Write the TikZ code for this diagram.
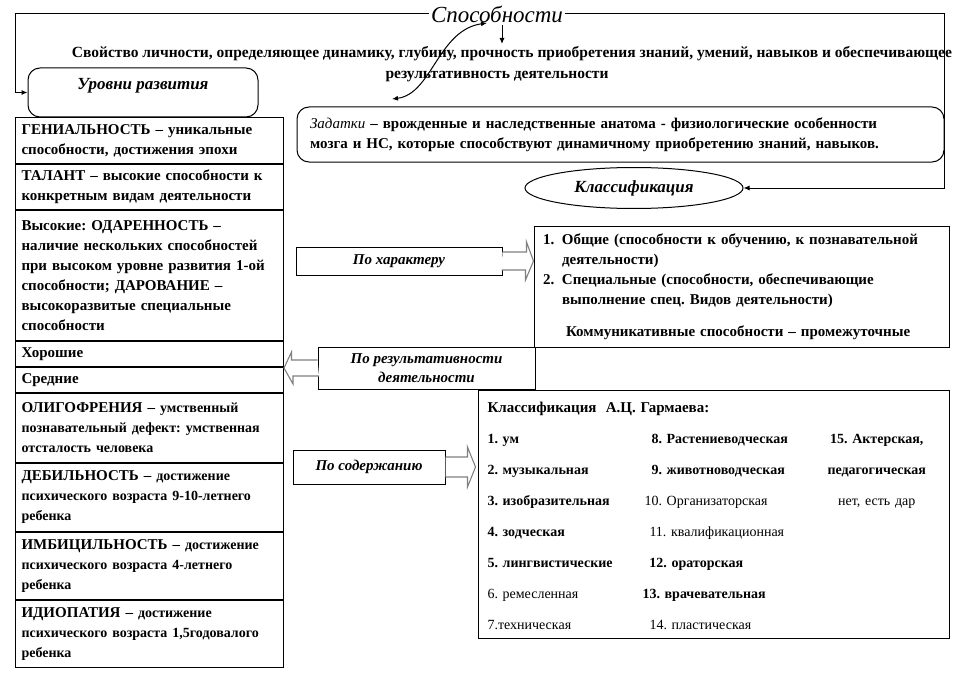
\documentclass[tikz,border=0pt]{standalone}
\usepackage{fontspec}
\setmainfont{Liberation Serif}
\usetikzlibrary{positioning,shapes.geometric,arrows.meta}
\frenchspacing

\tikzset{
  levelrow/.style={draw, rectangle, minimum width=268pt, text width=256pt,
    inner xsep=6pt, inner ysep=0pt, align=left, anchor=north west,
    font=\fontsize{15}{20}\selectfont\bfseries},
  roundbox/.style={draw, rounded corners=12pt, inner sep=0pt},
  kindbox/.style={draw, rectangle, inner sep=0pt, align=center,
    font=\fontsize{15}{19}\selectfont\bfseries\itshape},
  openarrow/.style={draw=black!50, fill=white, line width=1.1pt, line join=miter},
}
\newcommand{\smalldesc}{\fontsize{14}{20}\selectfont}

\begin{document}
\begin{tikzpicture}[x=1pt, y=-1pt, line width=1pt, >={Latex[length=6pt,width=5pt]}]
  \useasboundingbox (0,0) rectangle (961,674);

  % title and definition
  \node[font=\fontsize{23}{23}\selectfont\itshape, inner sep=2pt] (abil) at (497,14) {Способности};
  \node[align=center, font=\fontsize{15.5}{21}\selectfont\bfseries] (defin) at (512,64)
    {Свойство личности, определяющее динамику, глубину, прочность приобретения знаний, умений, навыков и обеспечивающее\\
     результативность деятельности\hspace*{30pt}};
  \coordinate (topleft) at (15,15);
  \coordinate (topright) at (944,15);
  \coordinate (defintop) at (502,44);
  \coordinate (curvetop) at (487,23);
  \coordinate (curvebot) at (392,99);

  % levels of development
  \node[roundbox, minimum width=230pt, minimum height=49pt, text depth=17pt,
    font=\fontsize{17}{17}\selectfont\bfseries\itshape] (levels) at (143,92.5) {Уровни развития};
  \node[levelrow, minimum height=46pt] (genius) at (15,117)
    {ГЕНИАЛЬНОСТЬ – уникальные\\способности, достижения эпохи};
  \node[levelrow, minimum height=45pt, below=0pt of genius] (talent)
    {ТАЛАНТ – высокие способности к\\конкретным видам деятельности};
  \node[levelrow, minimum height=130pt, below=0pt of talent] (gifted)
    {Высокие: ОДАРЕННОСТЬ –\\наличие нескольких способностей\\при высоком уровне развития 1-ой\\способности; ДАРОВАНИЕ –\\высокоразвитые специальные\\способности};
  \node[levelrow, minimum height=25pt, below=0pt of gifted] (good) {Хорошие};
  \node[levelrow, minimum height=25pt, below=0pt of good] (average) {Средние};
  \node[levelrow, minimum height=69pt, below=0pt of average] (oligo)
    {ОЛИГОФРЕНИЯ – {\smalldesc умственный\\познавательный дефект: умственная\\отсталость человека}};
  \node[levelrow, minimum height=68pt, below=0pt of oligo] (debil)
    {ДЕБИЛЬНОСТЬ – {\smalldesc достижение\\психического возраста 9-10-летнего\\ребенка}};
  \node[levelrow, minimum height=67pt, below=0pt of debil] (imbecile)
    {ИМБИЦИЛЬНОСТЬ – {\smalldesc достижение\\психического возраста 4-летнего\\ребенка}};
  \node[levelrow, minimum height=67pt, below=0pt of imbecile] (idiopathy)
    {ИДИОПАТИЯ – {\smalldesc достижение\\психического возраста 1,5годовалого\\ребенка}};

  % inclinations and classification
  \node[roundbox, minimum width=647pt, minimum height=55pt, text width=621pt, align=left,
    font=\fontsize{15}{20}\selectfont\bfseries] (inclin) at (620.5,134.5)
    {{\mdseries\itshape Задатки} – врожденные и наследственные анатома - физиологические особенности\\
     мозга и НС, которые способствуют динамичному приобретению знаний, навыков.};
  \node[ellipse, draw, minimum width=218pt, minimum height=41pt, inner sep=0pt,
    font=\fontsize{17}{17}\selectfont\bfseries\itshape] (classif) at (634,188) {Классификация};

  \node[kindbox, minimum width=206pt, minimum height=28pt] (bychar) at (399,261) {По характеру};
  \node[kindbox, minimum width=217pt, minimum height=42pt] (byresult) at (426.5,368)
    {По результативности\\деятельности};
  \node[kindbox, minimum width=152pt, minimum height=34pt] (bycontent) at (369,467) {По содержанию};

  \node[draw, minimum width=415pt, minimum height=121pt, text width=397pt, inner sep=0pt,
    align=left, font=\fontsize{15}{20}\selectfont\bfseries] (general) at (741.5,286.5)
    {\makebox[19pt][l]{1.}Общие (способности к обучению, к познавательной\\
     \hspace*{19pt}деятельности)\\
     \makebox[19pt][l]{2.}Специальные (способности, обеспечивающие\\
     \hspace*{19pt}выполнение спец. Видов деятельности)\\[12pt]
     \hspace*{23pt}Коммуникативные способности – промежуточные};

  \node[draw, minimum width=471pt, minimum height=247pt, text width=453pt, inner xsep=9pt,
    inner ysep=0pt, align=left, anchor=north west, font=\fontsize{14}{31}\selectfont] (garmaev) at (478,390)
    {\begin{tabular}{@{}p{162pt}@{}p{178pt}@{}c@{}}
     \multicolumn{3}{@{}l@{}}{\fontsize{15}{31}\selectfont\bfseries Классификация\ \ А.Ц. Гармаева:}\\
     \textbf{1. ум} & \hspace*{2pt}\textbf{8. Растениеводческая} & \textbf{15. Актерская,}\\
     \textbf{2. музыкальная} & \hspace*{2pt}\textbf{9. животноводческая} & \textbf{педагогическая}\\
     \textbf{3. изобразительная} & \hspace*{-5pt}10. Организаторская & нет, есть дар\\
     \textbf{4. зодческая} & 11. квалификационная & \\
     \textbf{5. лингвистические} & \textbf{12. ораторская} & \\
     6. ремесленная & \hspace*{-7pt}\textbf{13. врачевательная} & \\
     7.техническая & 14. пластическая &
     \end{tabular}};

  % connectors
  \draw[->] (abil.west) -- (abil.west -| topleft) |- (levels.west);
  \draw[->] (abil.east) -- (abil.east -| topright) |- (classif.east);
  \draw[->] (abil.south -| defintop) -- (defintop);
  \draw[<->] (curvebot) .. controls (432,94) and (438,30) .. (curvetop);

  % open block arrows
  \draw[openarrow] (bychar.east) ++(0,-9) -- ++(24,0) -- ++(0,-10) -- (bychar.east -| general.west)
    -- ++(-8,19) -- ++(0,-10) -- ++(-24,0);
  \draw[openarrow] (bycontent.east) ++(0,-10) -- ++(22,0) -- ++(0,-10) -- ++(8,20)
    -- ++(-8,20) -- ++(0,-10) -- ++(-22,0);
  \draw[openarrow] (byresult.west) ++(0,-8) -- ++(-26,0) -- ++(0,-8) -- (byresult.west -| average.east)
    -- ++(9,16) -- ++(0,-8) -- ++(26,0);
\end{tikzpicture}
\end{document}
